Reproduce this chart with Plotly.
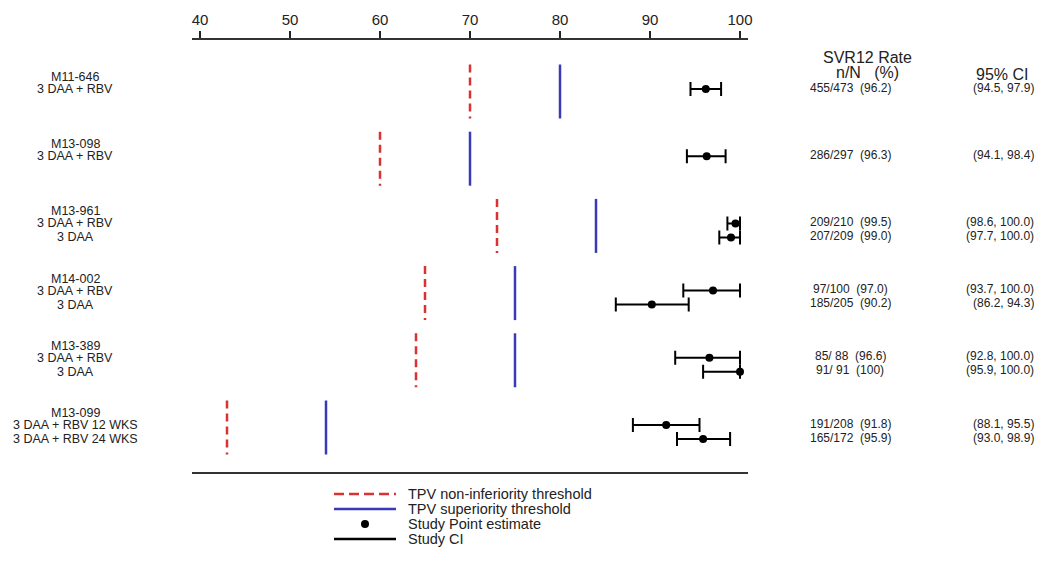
import plotly.graph_objects as go

# ---------------- data ----------------
studies = ["M11-646", "M13-098", "M13-961", "M14-002", "M13-389", "M13-099"]
non_inferiority = [70, 60, 73, 65, 64, 43]
superiority = [80, 70, 84, 75, 75, 54]

arm_study = [0, 1, 2, 2, 3, 3, 4, 4, 5, 5]
arm_labels = ["3 DAA + RBV", "3 DAA + RBV", "3 DAA + RBV", "3 DAA",
              "3 DAA + RBV", "3 DAA", "3 DAA + RBV", "3 DAA",
              "3 DAA + RBV 12 WKS", "3 DAA + RBV 24 WKS"]
responders = [455, 286, 209, 207, 97, 185, 85, 91, 191, 165]
totals = [473, 297, 210, 209, 100, 205, 88, 91, 208, 172]
svr_pct = [96.2, 96.3, 99.5, 99.0, 97.0, 90.2, 96.6, 100, 91.8, 95.9]
ci_low = [94.5, 94.1, 98.6, 97.7, 93.7, 86.2, 92.8, 95.9, 88.1, 93.0]
ci_high = [97.9, 98.4, 100.0, 100.0, 100.0, 94.3, 100.0, 100.0, 95.5, 98.9]

x_ticks = [40, 50, 60, 70, 80, 90, 100]

# ---------------- layout geometry (pixels) ----------------
W, H = 1039, 565
L, R, T, B = 192, 291, 40, 93
PW, PH = W - L - R, H - T - B
PX_PER_GROUP = 67.2
G0_PX = 91.5  # pixel y of first group centre

def ypx_to_unit(p):
    return (p - G0_PX) / PX_PER_GROUP

def px_x(p):
    return (p - L) / PW

def px_y(p):
    return (H - B - p) / PH

ROW0 = -2.5 / PX_PER_GROUP
ROW_STEP = 14.0 / PX_PER_GROUP
NAME_OFF = 12.0 / PX_PER_GROUP
HALF = 27.0 / PX_PER_GROUP

# row positions for each arm
arm_y = []
counter = {}
for s in arm_study:
    k = counter.get(s, 0)
    counter[s] = k + 1
    arm_y.append(s + ROW0 + k * ROW_STEP)

FONT = "Liberation Sans, Arial, sans-serif"
RED = "#d83232"
BLUE = "#3a3ab8"
TXT = "#222"

fig = go.Figure()

# thresholds
rx, ry, bx, by = [], [], [], []
for i, (ni, su) in enumerate(zip(non_inferiority, superiority)):
    rx += [ni, ni, None]
    ry += [i - HALF, i + HALF, None]
    bx += [su, su, None]
    by += [i - HALF, i + HALF, None]
fig.add_trace(go.Scatter(x=rx, y=ry, mode="lines",
                         line=dict(color=RED, width=2.5, dash="8px,5px"),
                         hoverinfo="skip"))
fig.add_trace(go.Scatter(x=bx, y=by, mode="lines",
                         line=dict(color=BLUE, width=2.5),
                         hoverinfo="skip"))

# points with CI
fig.add_trace(go.Scatter(
    x=svr_pct, y=arm_y, mode="markers",
    marker=dict(color="black", size=8),
    error_x=dict(type="data", symmetric=False,
                 array=[h - e for h, e in zip(ci_high, svr_pct)],
                 arrayminus=[e - l for e, l in zip(svr_pct, ci_low)],
                 color="black", thickness=2, width=7),
    cliponaxis=False))

annotations = []
# left labels
for i, s in enumerate(studies):
    first = [arm_y[j] for j in range(len(arm_study)) if arm_study[j] == i][0]
    annotations.append(dict(x=px_x(75), xref="paper", y=first - NAME_OFF, yref="y",
                            text=s, showarrow=False, xanchor="center", yanchor="middle",
                            font=dict(size=12.5, color=TXT, family=FONT)))
for j, lab in enumerate(arm_labels):
    annotations.append(dict(x=px_x(75), xref="paper", y=arm_y[j], yref="y",
                            text=lab, showarrow=False, xanchor="center", yanchor="middle",
                            font=dict(size=12.5, color=TXT, family=FONT)))

# right columns
for j in range(len(arm_labels)):
    pct = "100" if svr_pct[j] == 100 else f"{svr_pct[j]:.1f}"
    nn = f"{responders[j]}/{totals[j]:>3}".replace(" ", "\u00a0")
    yy = arm_y[j] - 1.5 / PX_PER_GROUP
    annotations.append(dict(x=px_x(850), xref="paper", y=yy, yref="y",
                            text=f"{nn}\u00a0\u00a0({pct})", showarrow=False,
                            xanchor="center", yanchor="middle",
                            font=dict(size=12, color=TXT, family=FONT)))
    annotations.append(dict(x=px_x(1036), xref="paper", y=yy, yref="y",
                            text=f"({ci_low[j]:.1f}, {ci_high[j]:.1f})", showarrow=False,
                            xanchor="right", yanchor="middle",
                            font=dict(size=12, color=TXT, family=FONT)))

# headers
annotations.append(dict(x=px_x(867), xref="paper", y=px_y(58), yref="paper", text="SVR12 Rate",
                        showarrow=False, xanchor="center", yanchor="middle",
                        font=dict(size=16, color=TXT, family=FONT)))
annotations.append(dict(x=px_x(867), xref="paper", y=px_y(73), yref="paper",
                        text="n/N\u00a0\u00a0\u00a0(%)",
                        showarrow=False, xanchor="center", yanchor="middle",
                        font=dict(size=16, color=TXT, family=FONT)))
annotations.append(dict(x=px_x(1002), xref="paper", y=px_y(74), yref="paper", text="95% CI",
                        showarrow=False, xanchor="center", yanchor="middle",
                        font=dict(size=16, color=TXT, family=FONT)))

# manual legend
legend_rows = [494, 509, 524, 539]
legend_text = ["TPV non-inferiority threshold", "TPV superiority threshold",
               "Study Point estimate", "Study CI"]
shapes = []
shapes.append(dict(type="line", xref="paper", yref="paper",
                   x0=px_x(334), x1=px_x(396), y0=px_y(legend_rows[0]), y1=px_y(legend_rows[0]),
                   line=dict(color=RED, width=2.5, dash="10px,5px")))
shapes.append(dict(type="line", xref="paper", yref="paper",
                   x0=px_x(334), x1=px_x(396), y0=px_y(legend_rows[1]), y1=px_y(legend_rows[1]),
                   line=dict(color=BLUE, width=2.5)))
shapes.append(dict(type="circle", xref="paper", yref="paper",
                   x0=px_x(361), x1=px_x(369), y0=px_y(legend_rows[2] - 4), y1=px_y(legend_rows[2] + 4),
                   fillcolor="black", line=dict(color="black", width=0)))
shapes.append(dict(type="line", xref="paper", yref="paper",
                   x0=px_x(334), x1=px_x(396), y0=px_y(legend_rows[3]), y1=px_y(legend_rows[3]),
                   line=dict(color="black", width=2.5)))
for yy, tx in zip(legend_rows, legend_text):
    annotations.append(dict(x=px_x(406), xref="paper", y=px_y(yy), yref="paper", text=tx,
                            showarrow=False, xanchor="left", yanchor="middle",
                            font=dict(size=14.5, color=TXT, family=FONT)))

fig.update_layout(
    width=W, height=H,
    margin=dict(l=L, r=R, t=T, b=B),
    paper_bgcolor="white", plot_bgcolor="white",
    showlegend=False,
    xaxis=dict(range=[40 - 8 / 9, 100 + 8 / 9], side="top", tickvals=x_ticks,
               ticks="outside", ticklen=7, tickwidth=2, tickcolor=TXT,
               showline=True, linewidth=2, linecolor="#333", mirror=True,
               showgrid=False, zeroline=False,
               tickfont=dict(size=15, color=TXT, family=FONT)),
    yaxis=dict(range=[ypx_to_unit(H - B), ypx_to_unit(T)], visible=False,
               showgrid=False, zeroline=False),
    annotations=annotations,
    shapes=shapes,
)

fig.write_html("out.html", config={"displayModeBar": False},
               post_script="document.body.style.margin='0';document.body.style.padding='0';")
